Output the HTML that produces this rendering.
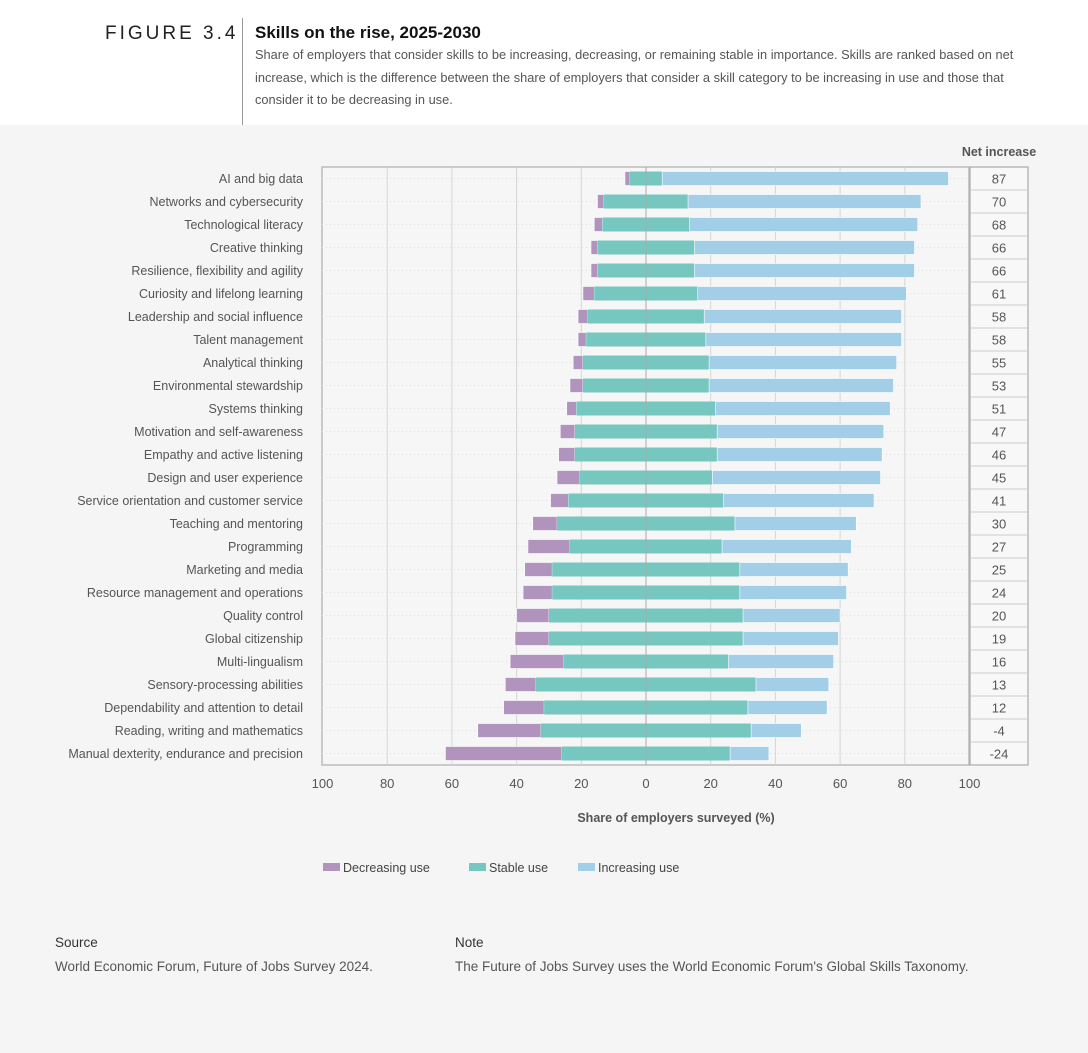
<!DOCTYPE html>
<html><head><meta charset="utf-8"><style>
body{margin:0;width:1088px;height:1053px;background:#f5f5f5;font-family:"Liberation Sans",sans-serif;overflow:hidden;position:relative}
#hdr{position:absolute;left:0;top:0;width:1088px;height:125px;background:#fff}
.t{position:absolute;white-space:nowrap}
</style></head><body>
<div id="hdr">
<div class="t" style="left:105px;top:23px;font-size:19px;letter-spacing:3px;color:#222">FIGURE 3.4</div>
<div style="position:absolute;left:242px;top:18px;width:1px;height:107px;background:#999"></div>
<div class="t" style="left:255px;top:23px;font-size:17px;font-weight:bold;color:#111">Skills on the rise, 2025-2030</div>
<div style="position:absolute;left:255px;top:44px;width:768px;font-size:12.8px;line-height:22.5px;color:#555">Share of employers that consider skills to be increasing, decreasing, or remaining stable in importance. Skills are ranked based on net increase, which is the difference between the share of employers that consider a skill category to be increasing in use and those that consider it to be decreasing in use.</div>
</div>
<svg id="ch" width="1088" height="1053" style="position:absolute;left:0;top:0"></svg>
<div class="t" style="left:55px;top:935px;font-size:13.5px;color:#333">Source</div>
<div class="t" style="left:55px;top:959px;font-size:13.5px;color:#555">World Economic Forum, Future of Jobs Survey 2024.</div>
<div class="t" style="left:455px;top:935px;font-size:13.5px;color:#333">Note</div>
<div class="t" style="left:455px;top:959px;font-size:13.5px;color:#555">The Future of Jobs Survey uses the World Economic Forum's Global Skills Taxonomy.</div>
<script>
const categories=["AI and big data","Networks and cybersecurity","Technological literacy","Creative thinking","Resilience, flexibility and agility","Curiosity and lifelong learning","Leadership and social influence","Talent management","Analytical thinking","Environmental stewardship","Systems thinking","Motivation and self-awareness","Empathy and active listening","Design and user experience","Service orientation and customer service","Teaching and mentoring","Programming","Marketing and media","Resource management and operations","Quality control","Global citizenship","Multi-lingualism","Sensory-processing abilities","Dependability and attention to detail","Reading, writing and mathematics","Manual dexterity, endurance and precision"];
const decreasing=[1.5,2,2.5,2,2,3.5,3,2.5,3,4,3,4.5,5,7,5.5,7.5,13,8.5,9,10,10.5,16.5,9.5,12.5,19.5,36];
const stable=[10,26,27,30,30,32,36,37,39,39,43,44,44,41,48,55,47,58,58,60,60,51,68,63,65,52];
const increasing=[88.5,72,70.5,68,68,64.5,61,60.5,58,57,54,51.5,51,52,46.5,37.5,40,33.5,33,30,29.5,32.5,22.5,24.5,15.5,12];
const netLabels=["87","70","68","66","66","61","58","58","55","53","51","47","46","45","41","30","27","25","24","20","19","16","13","12","-4","-24"];
const ticks=[-100,-80,-60,-40,-20,0,20,40,60,80,100];
const svg=document.getElementById('ch'),NS="http://www.w3.org/2000/svg";
function mk(t,a,p){const e=document.createElementNS(NS,t);for(const k in a)e.setAttribute(k,a[k]);(p||svg).appendChild(e);return e;}
const X=v=>646+v*3.235, top0=167, rowH=23, Y=i=>top0+rowH*i+rowH/2, bh=14;
const L=322,R=969,B=top0+rowH*categories.length;
mk('rect',{x:L,y:top0,width:R-L,height:B-top0,fill:'#f6f6f6',stroke:'#bbb','stroke-width':1.5});
ticks.forEach(t=>{
 if(t>-100&&t<100){const g=mk('line',{x1:X(t),x2:X(t),y1:top0,y2:B,stroke:t===0?'#aaa':'#d6d6d6','stroke-width':1});
 
 }
 const tx=mk('text',{x:X(t),y:B+23,'text-anchor':'middle','font-size':13,fill:'#555'});tx.textContent=Math.abs(t);
 
 
});
const ax=mk('text',{x:676,y:822,'text-anchor':'middle','font-size':12.5,'font-weight':'bold',fill:'#555'});ax.textContent='Share of employers surveyed (%)';


const nh=mk('text',{x:999,y:156,'text-anchor':'middle','font-size':12.5,'font-weight':'bold',fill:'#555'});nh.textContent='Net increase';


mk('rect',{x:970,y:top0,width:58,height:B-top0,fill:'#f8f8f8',stroke:'#aaa','stroke-width':1.2});
categories.forEach((c,i)=>{
 const y=Y(i);
 mk('line',{x1:L,x2:R,y1:y,y2:y,stroke:'#ddd','stroke-dasharray':'1 3'});
 const lb=mk('text',{x:303,y:y+4.5,'text-anchor':'end','font-size':12.5,fill:'#555'});lb.textContent=c;
 
 
 const s0=-stable[i]/2,s1=stable[i]/2;
 const d=mk('rect',{x:X(s0-decreasing[i]),y:y-bh/2,width:X(s0)-X(s0-decreasing[i]),height:bh,fill:'#b094bd',stroke:'#fff','stroke-width':0.6});
 
 
 const s=mk('rect',{x:X(s0),y:y-bh/2,width:X(s1)-X(s0),height:bh,fill:'#76c7bf'});
 
 
 const n=mk('rect',{x:X(s1),y:y-bh/2,width:X(s1+increasing[i])-X(s1),height:bh,fill:'#a2cfe7',stroke:'#fff','stroke-width':0.6});
 
 
 if(i>0)mk('line',{x1:970,x2:1028,y1:top0+rowH*i,y2:top0+rowH*i,stroke:'#ccc'});
 const nv=mk('text',{x:999,y:y+5,'text-anchor':'middle','font-size':13,fill:'#555'});nv.textContent=netLabels[i];
 
 
});
mk('line',{x1:X(0),x2:X(0),y1:top0,y2:B,stroke:'#aaa','stroke-width':1});
[["Decreasing use","#b094bd",323],["Stable use","#76c7bf",469],["Increasing use","#a2cfe7",578]].forEach(l=>{
 const g=mk('g',{});
 
 
 mk('rect',{x:l[2],y:863,width:17,height:8,fill:l[1]},g);
 const t=mk('text',{x:l[2]+20,y:872,'font-size':12.5,fill:'#444'},g);t.textContent=l[0];
});
</script>
</body></html>
